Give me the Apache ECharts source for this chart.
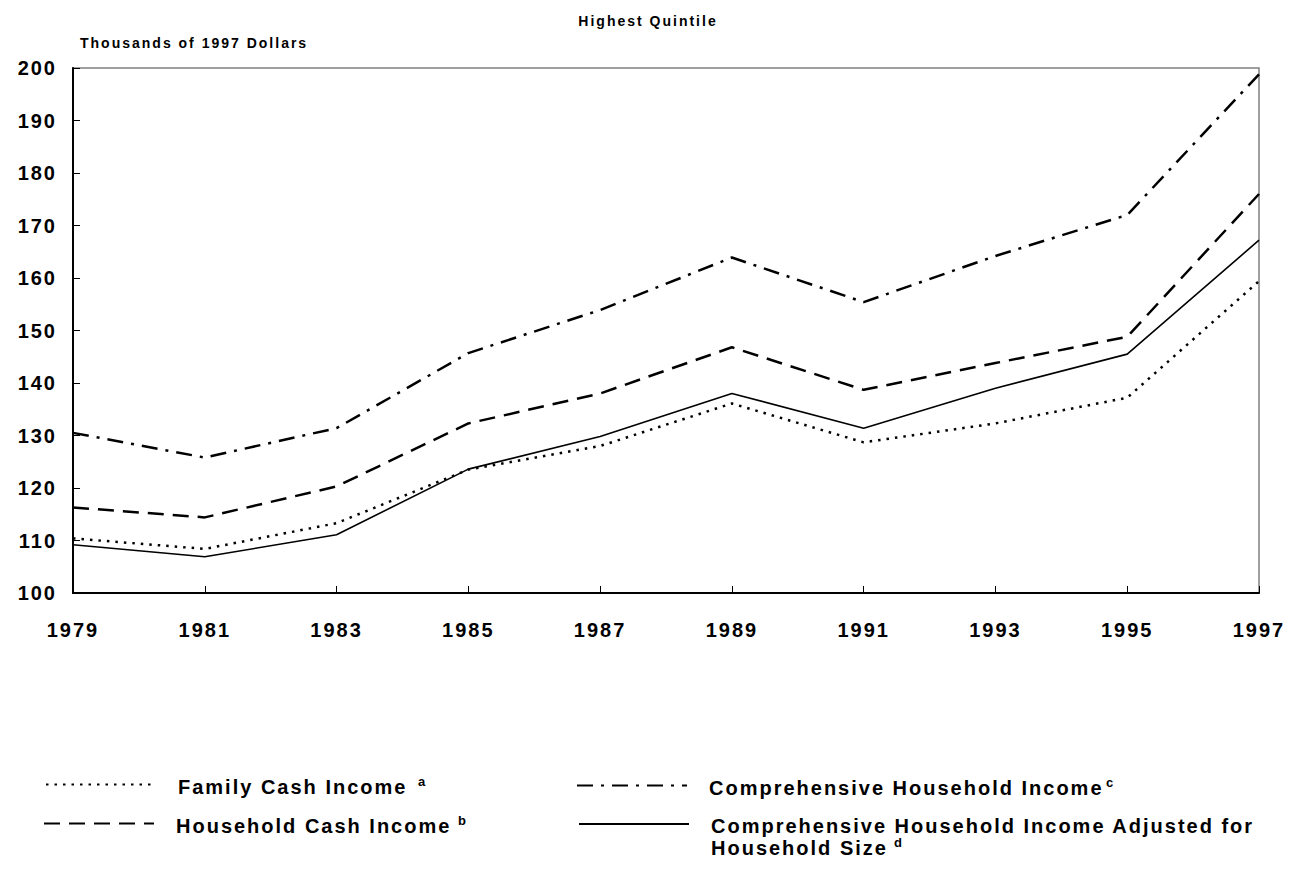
<!DOCTYPE html>
<html>
<head>
<meta charset="utf-8">
<title>Highest Quintile</title>
<script src="https://cdn.jsdelivr.net/npm/echarts@6/dist/echarts.min.js"></script>
<style>
html, body { margin: 0; padding: 0; background: #fff; }
#chart { width: 1296px; height: 896px; }
#chart text { letter-spacing: 2px; }
</style>
</head>
<body>
<div id="chart"></div>
<script>
// years on the x axis
const years = ['1979', '1981', '1983', '1985', '1987', '1989', '1991', '1993', '1995', '1997']
// thousands of 1997 dollars
const familyCash = [110.4, 108.4, 113.3, 123.5, 128.0, 136.1, 128.7, 132.3, 137.2, 159.4]
const householdCash = [116.3, 114.4, 120.3, 132.3, 138.0, 146.8, 138.7, 143.8, 148.8, 176.0]
const comprehensive = [130.5, 125.8, 131.4, 145.7, 153.9, 163.9, 155.4, 164.2, 172.0, 198.8]
const adjusted = [109.2, 106.9, 111.1, 123.6, 129.8, 138.0, 131.4, 139.0, 145.5, 167.2]
const yTicks = { min: 100, max: 200, step: 10 }

const font = 'Liberation Sans, Arial, sans-serif'
const spacing = 2 // matches the css letter-spacing above

// zrender measures text without letter-spacing, so give the rich tokens their real width
const measureCtx = document.createElement('canvas').getContext('2d')
function textWidth (str, size) {
  measureCtx.font = 'bold ' + size + 'px ' + font
  return Math.ceil(measureCtx.measureText(str).width + spacing * str.length)
}

function legendAt (name, left, top, lines, supChar, supGap) {
  const rich = {
    sp: { fontSize: 20, lineHeight: 23 },
    // footnote letter, top aligned so it sits above the text
    s: { fontSize: 13, fontWeight: 'bold', fontFamily: font, color: '#000', verticalAlign: 'top', lineHeight: 10, padding: [0, 0, 0, supGap] }
  }
  const last = lines.length - 1
  const parts = lines.map(function (l, i) {
    const base = { width: textWidth(l, 20), fontSize: 20, fontWeight: 'bold', fontFamily: font, color: '#000' }
    // the line carrying the footnote is pushed down a little so the letter rides high
    rich['t' + i] = Object.assign(base, i === last
      ? { lineHeight: 19, padding: [5, 0, 0, 17] }
      : { lineHeight: 19, padding: [0, 0, 0, 17] })
    let p = '{t' + i + '|' + l + '}'
    if (i === last) p += '{s|' + supChar + '}'
    return p
  })
  if (lines.length > 1) parts.unshift('{sp| }') // keeps the line sample level with the first line
  return {
    data: [name],
    left: left,
    top: top,
    itemWidth: 110,
    itemHeight: 14,
    itemStyle: { opacity: 0 },
    formatter: function () { return parts.join('\n') },
    textStyle: { fontSize: 20, fontWeight: 'bold', fontFamily: font, color: '#000', rich: rich }
  }
}

const chart = echarts.init(document.getElementById('chart'), null, { renderer: 'svg' })

const option = {
  backgroundColor: '#fff',
  animation: false,
  title: {
    text: 'Highest Quintile',
    left: 'center',
    top: 9,
    textStyle: { fontSize: 14, fontWeight: 'bold', fontFamily: font, color: '#000' }
  },
  grid: {
    left: 73,
    right: 37,
    top: 68,
    bottom: 303,
    show: true,
    borderColor: '#808080',
    borderWidth: 1.5
  },
  legend: [
    legendAt('Family Cash Income', 40, 767, ['Family Cash Income'], 'a', 10),
    legendAt('Household Cash Income', 38, 806, ['Household Cash Income'], 'b', 6),
    legendAt('Comprehensive Household Income', 571, 768, ['Comprehensive Household Income'], 'c', 2),
    legendAt('Comprehensive Household Income Adjusted for Household Size', 573, 790,
      ['Comprehensive Household Income Adjusted for', 'Household Size'], 'd', 6)
  ],
  xAxis: {
    type: 'category',
    data: years,
    boundaryGap: false,
    axisLine: { lineStyle: { color: '#000', width: 2 } },
    axisTick: { inside: true, length: 7, alignWithLabel: true, lineStyle: { color: '#000', width: 1 } },
    axisLabel: { margin: 27, fontSize: 20, fontWeight: 'bold', fontFamily: font, color: '#000' },
    splitLine: { show: false }
  },
  yAxis: {
    type: 'value',
    min: yTicks.min,
    max: yTicks.max,
    interval: yTicks.step,
    name: 'Thousands of 1997 Dollars',
    nameLocation: 'end',
    nameGap: 18,
    nameTextStyle: { align: 'left', padding: [0, 0, 0, 7], fontSize: 14, fontWeight: 'bold', fontFamily: font, color: '#000' },
    axisLine: { show: true, lineStyle: { color: '#000', width: 2 } },
    axisTick: { show: true, inside: true, length: 7, lineStyle: { color: '#000', width: 1 } },
    axisLabel: { margin: 16, fontSize: 20, fontWeight: 'bold', fontFamily: font, color: '#000' },
    splitLine: { show: false }
  },
  series: [
    {
      name: 'Family Cash Income',
      type: 'line',
      data: familyCash,
      symbol: 'none',
      itemStyle: { color: '#000' },
      lineStyle: { color: '#000', width: 2.5, type: [2.5, 6] }
    },
    {
      name: 'Household Cash Income',
      type: 'line',
      data: householdCash,
      symbol: 'none',
      itemStyle: { color: '#000' },
      lineStyle: { color: '#000', width: 2.5, type: [16, 9] }
    },
    {
      name: 'Comprehensive Household Income',
      type: 'line',
      data: comprehensive,
      symbol: 'none',
      itemStyle: { color: '#000' },
      lineStyle: { color: '#000', width: 2.5, type: [16, 8, 3, 8] }
    },
    {
      name: 'Comprehensive Household Income Adjusted for Household Size',
      type: 'line',
      data: adjusted,
      symbol: 'none',
      itemStyle: { color: '#000' },
      lineStyle: { color: '#000', width: 1.6 }
    }
  ]
}

chart.setOption(option)
</script>
</body>
</html>
